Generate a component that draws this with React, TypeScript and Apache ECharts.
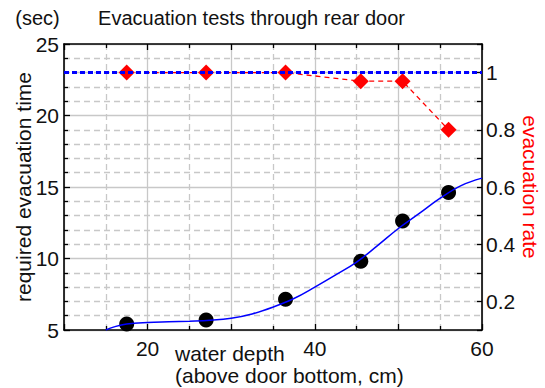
import React, { useEffect, useRef } from "react";
import * as echarts from "echarts";

const depth = [17.5, 27, 36.5, 45.5, 50.5, 56];
const evacTime = [5.42, 5.7, 7.15, 9.8, 12.63, 14.62];
const evacRate = [1, 1, 1, 0.97, 0.97, 0.8];
const fitDepth = [15, 16, 17.5, 20, 22.5, 25, 27.5, 30, 32.5, 35, 37.5, 40, 42.5, 45, 47.5, 50, 52.5, 55, 57.5, 60];
const fitTime = [5.0, 5.22, 5.42, 5.53, 5.58, 5.62, 5.68, 5.82, 6.12, 6.6, 7.2, 8.0, 8.85, 9.75, 10.9, 12.1, 13.15, 14.22, 15.1, 15.62];
const refDepth = [10, 60];
const refRate = [1, 1];
const xLabels = [20, 40, 60];

const FONT = "Liberation Sans, Arial, Helvetica, sans-serif";
const GRID = "#c8c8c8";

export default function App() {
  const ref = useRef<HTMLDivElement>(null);
  useEffect(() => {
    document.body.style.margin = "0";
    const chart = echarts.init(ref.current!, null, { renderer: "svg" });
    const axisLine = { show: true, onZero: false, lineStyle: { color: "#000", width: 1.6 } };
    const xCommon = {
      type: "value" as const,
      min: 10,
      max: 60,
      interval: 10,
      axisLine,
      axisTick: { show: true, inside: true, length: 6, lineStyle: { color: "#000", width: 1.3 } },
      minorTick: { show: true, splitNumber: 2, length: 4, lineStyle: { color: "#000", width: 1.3 } },
    };
    chart.setOption({
      animation: false,
      textStyle: { fontFamily: FONT },
      grid: { left: 64, right: 63, top: 44, bottom: 58, containLabel: false, outerBoundsMode: "none" },
      graphic: [
        {
          type: "text",
          x: 251.5,
          y: 18,
          style: { text: "Evacuation tests through rear door", font: `20px ${FONT}`, fill: "#111", textAlign: "center", textVerticalAlign: "middle" },
        },
        {
          type: "text",
          x: 37.5,
          y: 18,
          style: { text: "(sec)", font: `20px ${FONT}`, fill: "#111", textAlign: "center", textVerticalAlign: "middle" },
        },
        {
          type: "text",
          x: 175,
          y: 342,
          style: { text: "water depth\n(above door bottom, cm)", font: `21px ${FONT}`, fill: "#111", lineHeight: 22, textAlign: "left", textVerticalAlign: "top" },
        },
      ],
      xAxis: [
        {
          ...xCommon,
          position: "bottom",
          axisLabel: {
            show: true,
            fontSize: 21,
            color: "#111",
            margin: 8,
            formatter: (v: number) => (xLabels.includes(Math.round(v)) ? String(Math.round(v)) : ""),
          },
          splitLine: { show: true, lineStyle: { color: GRID, width: 1.3 } },
          minorSplitLine: { show: true, lineStyle: { color: GRID, width: 1.3, type: [6, 4] } },
        },
        {
          ...xCommon,
          position: "top",
          axisLabel: { show: false },
          splitLine: { show: false },
        },
      ],
      yAxis: [
        {
          type: "value",
          position: "left",
          min: 5,
          max: 25,
          interval: 5,
          axisLine,
          axisTick: { show: true, inside: true, length: 6, lineStyle: { color: "#000", width: 1.3 } },
          minorTick: { show: true, splitNumber: 5, length: 4, lineStyle: { color: "#000", width: 1.3 } },
          axisLabel: { fontSize: 21, color: "#111", margin: 5 },
          splitLine: { show: true, lineStyle: { color: GRID, width: 1.3 } },
          minorSplitLine: { show: true, lineStyle: { color: GRID, width: 1.3, type: [6, 4] } },
          name: "required evacuation time",
          nameLocation: "middle",
          nameGap: 30,
          nameMoveOverlap: false,
          nameTextStyle: { fontSize: 21, color: "#111" },
        },
        {
          type: "value",
          position: "right",
          min: 0.1,
          max: 1.1,
          interval: 0.1,
          axisLine,
          axisTick: { show: true, inside: true, length: 5, lineStyle: { color: "#000", width: 1.3 } },
          axisLabel: {
            fontSize: 21,
            color: "#111",
            margin: 4,
            formatter: (v: number) => {
              const k = Math.round(v * 10);
              if (k % 2 !== 0 || k < 2 || k > 10) return "";
              return k === 10 ? "1" : (k / 10).toFixed(1);
            },
          },
          splitLine: { show: false },
          name: "evacuation rate",
          nameLocation: "middle",
          nameGap: 38,
          nameRotate: -90,
          nameMoveOverlap: false,
          nameTextStyle: { fontSize: 21, color: "#ff0000" },
        },
      ],
      series: [
        {
          type: "line",
          xAxisIndex: 0,
          yAxisIndex: 1,
          data: depth.map((d, i) => [d, evacRate[i]]),
          symbol: "diamond",
          symbolSize: 16,
          itemStyle: { color: "#ff0000" },
          lineStyle: { color: "#ff0000", width: 1.3, type: [5, 4] },
          z: 3,
        },
        {
          type: "line",
          xAxisIndex: 0,
          yAxisIndex: 1,
          data: refDepth.map((d, i) => [d, refRate[i]]),
          showSymbol: false,
          symbol: "none",
          lineStyle: { color: "#0000ff", width: 3, type: [5, 3] },
          z: 4,
        },
        {
          type: "scatter",
          xAxisIndex: 0,
          yAxisIndex: 0,
          data: depth.map((d, i) => [d, evacTime[i]]),
          symbol: "circle",
          symbolSize: 15,
          itemStyle: { color: "#000", opacity: 1 },
          z: 3,
        },
        {
          type: "line",
          xAxisIndex: 0,
          yAxisIndex: 0,
          data: fitDepth.map((d, i) => [d, fitTime[i]]),
          smooth: 0.4,
          showSymbol: false,
          symbol: "none",
          lineStyle: { color: "#0000ff", width: 1.5 },
          z: 4,
        },
      ],
    });
    return () => chart.dispose();
  }, []);
  return <div ref={ref} style={{ width: 545, height: 388 }} />;
}
